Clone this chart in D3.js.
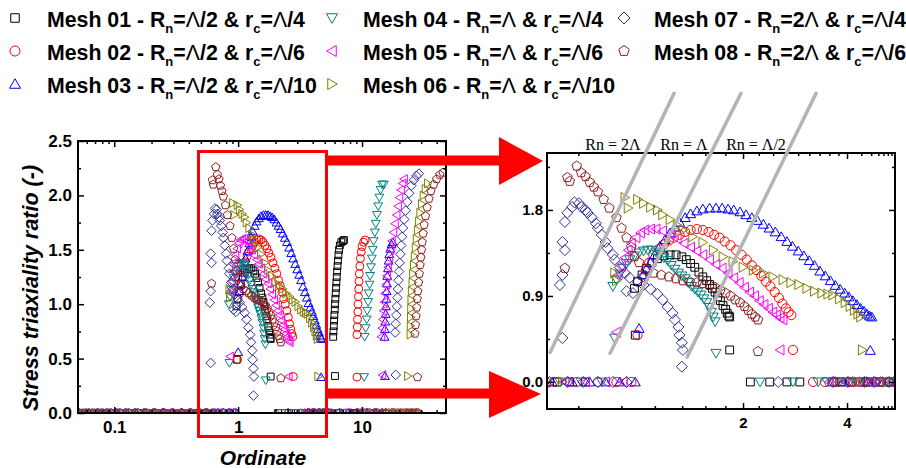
<!DOCTYPE html>
<html><head><meta charset="utf-8">
<script src="https://cdn.jsdelivr.net/npm/d3@7"></script>
<style>body{margin:0;background:#fff}svg{display:block}text{white-space:pre}</style>
</head><body><svg id="c" width="906" height="468"></svg>
<script>
// ---------------- DATA ----------------
const meshNames = ["Mesh 01","Mesh 02","Mesh 03","Mesh 04","Mesh 05","Mesh 06","Mesh 07","Mesh 08"];
const rnValues = ["Λ/2","Λ/2","Λ/2","Λ","Λ","Λ","2Λ","2Λ"];
const rcValues = ["Λ/4","Λ/6","Λ/10","Λ/4","Λ/6","Λ/10","Λ/4","Λ/6"];

// [x, y] points: main curve, isolated points, high-x column
const mesh01Points = [
 [0.97,0.98],[0.99,1.05],[1.02,1.12],[1.05,1.19],[1.09,1.25],[1.13,1.29],[1.18,1.32],[1.23,1.33],[1.28,1.33],[1.33,1.31],[1.37,1.28],[1.41,1.24],[1.45,1.20],[1.49,1.15],[1.53,1.10],[1.57,1.06],[1.60,1.02],[1.63,0.98],[1.66,0.94],[1.69,0.89],[1.72,0.85],[1.75,0.80],[1.78,0.76],[1.80,0.72],[1.82,0.69],[1.83,0.68],
 [0.975,0.49],[1.83,0.335],[6.05,0.34],
 [5.85,0.70],[5.88,0.75],[5.92,0.80],[5.95,0.85],[5.98,0.90],[6.02,0.95],[6.05,1.00],[6.09,1.05],[6.13,1.10],[6.17,1.15],[6.21,1.20],[6.25,1.25],[6.29,1.30],[6.34,1.35],[6.39,1.40],[6.45,1.45],[6.52,1.50],[6.62,1.54],[6.80,1.57],[7.00,1.58],[7.15,1.59]
];
const mesh02Points = [
 [1.03,1.10],[1.05,1.18],[1.07,1.25],[1.10,1.33],[1.14,1.39],[1.18,1.44],[1.22,1.48],[1.26,1.51],[1.31,1.54],[1.36,1.57],[1.41,1.59],[1.47,1.60],[1.53,1.59],[1.59,1.57],[1.65,1.54],[1.71,1.51],[1.77,1.47],[1.84,1.43],[1.91,1.38],[1.98,1.33],[2.05,1.28],[2.12,1.22],[2.19,1.17],[2.26,1.11],[2.33,1.05],[2.40,1.00],[2.47,0.94],[2.54,0.88],[2.60,0.82],[2.66,0.77],[2.71,0.73],[2.76,0.70],
 [0.99,0.49],[2.79,0.335],[9.1,0.33],
 [9.1,0.72],[9.15,0.79],[9.2,0.86],[9.25,0.93],[9.3,1.00],[9.35,1.07],[9.4,1.14],[9.45,1.21],[9.5,1.28],[9.6,1.35],[9.7,1.42],[9.85,1.48],[10.0,1.53],[10.3,1.57],[10.6,1.59]
];
const mesh03Points = [
 [1.03,1.12],[1.05,1.18],[1.08,1.25],[1.11,1.33],[1.15,1.42],[1.19,1.49],[1.23,1.56],[1.27,1.62],[1.31,1.67],[1.36,1.72],[1.41,1.76],[1.47,1.79],[1.53,1.81],[1.60,1.82],[1.67,1.82],[1.74,1.82],[1.81,1.81],[1.88,1.80],[1.96,1.78],[2.04,1.75],[2.12,1.72],[2.20,1.69],[2.29,1.65],[2.38,1.61],[2.48,1.57],[2.58,1.52],[2.68,1.47],[2.78,1.42],[2.89,1.37],[3.00,1.32],[3.11,1.27],[3.22,1.22],[3.34,1.16],[3.46,1.11],[3.58,1.06],[3.70,1.01],[3.82,0.97],[3.94,0.93],[4.05,0.89],[4.16,0.85],[4.27,0.81],[4.38,0.77],[4.48,0.74],[4.57,0.71],[4.65,0.69],[4.72,0.68],
 [1.0,0.56],[4.67,0.33],[15.3,0.34],
 [15.2,0.70],[15.3,0.77],[15.4,0.84],[15.5,0.91],[15.6,0.98],[15.7,1.05],[15.8,1.12],[15.9,1.19],[16.0,1.26],[16.2,1.33],[16.4,1.40],[16.6,1.46],[16.9,1.51],[17.3,1.55],[17.7,1.57]
];
const mesh04Points = [
 [0.84,1.00],[0.86,1.07],[0.88,1.13],[0.90,1.19],[0.92,1.24],[0.94,1.28],[0.97,1.32],[1.00,1.35],[1.03,1.37],[1.06,1.38],[1.09,1.38],[1.12,1.36],[1.15,1.33],[1.18,1.30],[1.21,1.27],[1.24,1.22],[1.27,1.18],[1.30,1.14],[1.33,1.11],[1.36,1.08],[1.39,1.04],[1.42,1.00],[1.45,0.97],[1.48,0.94],[1.51,0.91],[1.54,0.87],[1.57,0.83],[1.60,0.78],[1.62,0.73],[1.64,0.68],[1.66,0.63],
 [0.85,0.46],[1.67,0.30],[10.4,0.33],
 [10.5,0.70],[10.7,0.78],[10.9,0.86],[11.0,0.94],[11.2,1.02],[11.3,1.10],[11.5,1.18],[11.6,1.26],[11.8,1.34],[12.0,1.42],[12.2,1.50],[12.4,1.58],[12.7,1.66],[12.9,1.74],[13.2,1.82],[13.5,1.90],[13.8,1.98],[14.1,2.05],[14.5,2.10],[15.0,2.10]
];
const mesh05Points = [
 [0.87,1.12],[0.89,1.21],[0.91,1.30],[0.93,1.38],[0.95,1.45],[0.98,1.51],[1.01,1.56],[1.04,1.59],[1.08,1.60],[1.12,1.60],[1.17,1.58],[1.23,1.54],[1.29,1.50],[1.35,1.45],[1.41,1.41],[1.47,1.37],[1.53,1.33],[1.60,1.28],[1.67,1.23],[1.74,1.19],[1.81,1.14],[1.88,1.09],[1.95,1.04],[2.02,0.99],[2.09,0.94],[2.16,0.90],[2.23,0.85],[2.30,0.81],[2.37,0.77],[2.44,0.73],[2.50,0.70],[2.56,0.67],[2.61,0.65],
 [0.86,0.52],[2.56,0.335],[14.6,0.35],
 [14.3,0.70],[14.5,0.78],[14.7,0.86],[14.9,0.94],[15.1,1.02],[15.3,1.10],[15.6,1.18],[15.9,1.26],[16.2,1.34],[16.6,1.42],[17.0,1.50],[17.4,1.58],[17.9,1.66],[18.4,1.74],[19.0,1.82],[19.5,1.90],[20.0,1.98],[20.6,2.05],[21.2,2.11],[21.8,2.15]
];
const mesh06Points = [
 [0.85,1.14],[0.86,1.06],[0.91,1.93],[0.93,1.82],[0.99,1.91],[1.03,1.87],[1.08,1.83],[1.13,1.80],[1.17,1.75],[1.23,1.70],[1.29,1.64],[1.34,1.59],[1.43,1.52],[1.53,1.46],[1.64,1.38],[1.75,1.31],[1.87,1.26],[2.00,1.20],[2.14,1.17],[2.29,1.14],[2.44,1.10],[2.61,1.07],[2.75,1.04],[2.90,1.02],[3.06,0.98],[3.22,0.95],[3.38,0.93],[3.52,0.92],[3.64,0.91],[3.80,0.87],[3.95,0.83],[4.08,0.79],[4.20,0.75],[4.30,0.71],[4.38,0.68],
 [4.43,0.335],[23.5,0.34],
 [24.6,0.72],[24.7,0.80],[24.8,0.88],[24.9,0.96],[25.0,1.04],[25.2,1.12],[25.5,1.20],[25.8,1.28],[26.2,1.36],[26.6,1.44],[27.1,1.52],[27.6,1.60],[28.2,1.68],[28.8,1.76],[29.5,1.84],[30.4,1.92],[31.4,2.00],[32.6,2.06],[34.0,2.11]
];
const mesh07Points = [
 [0.59,1.015],[0.60,1.12],[0.61,1.38],[0.60,1.465],[0.61,1.675],[0.62,1.77],[0.64,1.83],[0.65,1.88],[0.67,1.87],[0.68,1.83],[0.70,1.80],[0.71,1.77],[0.73,1.72],[0.75,1.66],[0.76,1.61],[0.78,1.54],[0.80,1.465],[0.81,1.40],[0.84,1.33],[0.85,1.28],[0.88,1.20],[0.91,1.14],[0.94,1.09],[0.99,1.05],[1.03,1.015],[1.08,0.97],[1.13,0.92],[1.17,0.86],[1.21,0.785],[1.25,0.72],[1.27,0.65],[1.30,0.575],[1.31,0.49],[1.33,0.41],[1.34,0.335],[0.92,0.95],[0.96,0.93],
 [0.60,0.46],[1.33,0.16],[18.7,0.35],
 [18.5,0.74],[18.7,0.82],[18.9,0.90],[19.1,0.98],[19.3,1.06],[19.5,1.14],[19.7,1.22],[19.9,1.30],[20.1,1.38],[20.4,1.46],[20.7,1.54],[21.0,1.62],[21.4,1.70],[21.9,1.78],[22.5,1.86],[23.2,1.94],[24.0,2.02],[25.0,2.09],[26.2,2.14],[27.5,2.18],[28.8,2.20]
];
const mesh08Points = [
 [0.62,2.14],[0.63,2.10],[0.66,2.26],[0.68,2.19],[0.70,2.15],[0.72,2.09],[0.74,2.04],[0.76,1.99],[0.79,1.91],[0.82,1.82],[0.86,1.72],[0.89,1.61],[0.92,1.51],[0.95,1.41],[0.97,1.31],[1.00,1.25],[1.05,1.17],[1.10,1.14],[1.16,1.12],[1.22,1.10],[1.28,1.08],[1.34,1.06],[1.40,1.05],[1.47,1.04],[1.53,1.03],[1.60,1.01],[1.66,0.99],[1.72,0.96],[1.78,0.93],[1.84,0.90],[1.90,0.86],[1.96,0.83],[2.02,0.79],[2.07,0.75],[2.12,0.71],[2.17,0.68],[2.21,0.65],
 [0.61,1.19],[2.21,0.32],[28.0,0.33],
 [26.7,0.73],[27.0,0.81],[27.3,0.89],[27.6,0.97],[27.9,1.05],[28.2,1.12],[28.6,1.20],[29.0,1.28],[29.4,1.36],[29.8,1.43],[30.2,1.50],[30.6,1.57],[31.1,1.65],[31.7,1.73],[32.5,1.81],[33.5,1.89],[34.7,1.97],[36.0,2.04],[37.8,2.10],[40.0,2.15],[42.5,2.19],[45.0,2.21]
];

// x positions of points lying on y = 0
const mesh01Zeros = [0.052,0.061,0.072,0.085,0.10,0.118,0.139,0.164,0.193,0.228,0.269,0.317,0.374,0.441,0.52,0.58,0.63,0.70, 2.10,2.39,2.68,2.92,3.62,3.86,4.10,4.36,4.62,4.95,5.30,6.2,7.4,8.8];
const mesh02Zeros = [0.055,0.066,0.078,0.092,0.11,0.13,0.155,0.18,0.215,0.255,0.30,0.355,0.42,0.50,0.57,0.66,0.76,0.86,0.95, 3.19,3.45,3.75,4.05,4.45,4.85,5.25,6.5,8.0,9.5,11.5];
const mesh03Zeros = [0.053,0.063,0.075,0.089,0.106,0.126,0.15,0.178,0.21,0.25,0.295,0.35,0.415,0.49,0.56,0.64,0.72,0.80,0.88,0.975, 3.9,4.6,5.1,6.8,8.2,9.8,11.2,12.8,14.5];
const mesh04Zeros = [0.054,0.067,0.08,0.095,0.112,0.133,0.158,0.187,0.222,0.263,0.31,0.365,0.43,0.51,0.59,0.68,0.78, 2.24,2.79,3.30,3.50,3.75,4.00,4.30,4.55,4.85,5.20,5.45,5.7,6.5,7.3];
const mesh05Zeros = [0.056,0.068,0.081,0.097,0.115,0.137,0.163,0.194,0.23,0.272,0.322,0.38,0.45,0.53,0.61,0.70,0.80,0.90, 3.55,3.95,4.25,4.65,4.95,5.35,7.0,8.6,10.3,12.0,13.8];
const mesh06Zeros = [0.051,0.06,0.07,0.083,0.098,0.116,0.137,0.162,0.192,0.227,0.268,0.317,0.375,0.443,0.52,0.60, 4.30,5.20,10.5,13.5,16.5,19.0,21.5,24.0,26.5,29.0];
const mesh07Zeros = [0.052,0.062,0.074,0.088,0.104,0.124,0.147,0.175,0.208,0.247,0.294,0.35,0.41,0.48,0.55,0.62,0.69,0.76,0.84,0.92, 2.53,3.65,4.02,4.50,4.80,5.30,6.6,7.8,9.2,11.0,13.0,15.5,17.5];
const mesh08Zeros = [0.05,0.059,0.069,0.081,0.095,0.112,0.132,0.156,0.183,0.215,0.253,0.298,0.35,0.41,0.47,0.54, 3.70,4.15,4.55,5.00,5.45,9.0,10.5,11.5,12.5,13.5,14.5,15.5,16.5,17.5,18.5,19.5,20.5,21.5,22.5,23.5,24.5,25.5,26.5,27.5,28.5];

// axes ticks
const leftXMajor = [0.1, 1, 10];
const leftXMinor = [0.06,0.07,0.08,0.09,0.2,0.3,0.4,0.5,0.6,0.7,0.8,0.9,2,3,4,5,6,7,8,9,20,30,40];
const leftYMajor = [0, 0.5, 1.0, 1.5, 2.0, 2.5];
const leftYMinor = [0.25, 0.75, 1.25, 1.75, 2.25];
const rightXMajor = [2, 4];
const rightXMinor = [0.667,0.889,1.111,1.333,1.556,1.778,2.222,2.444,2.667,2.889,3.111,3.333,3.556,3.778,4.4,4.7,4.93,5.1,5.25,5.38];
const rightYMajor = [0, 0.9, 1.8];
const rightYMinor = [0.45, 1.35, 2.25];

// guide lines in the zoomed panel (data coords) and their labels
const guideLines = [[[0.553,0.31],[1.263,3.02]], [[0.824,0.30],[1.973,3.02]], [[1.377,0.26],[3.254,3.02]]];
const guideLabels = ["Rn = 2Λ", "Rn = Λ", "Rn = Λ/2"];

// ---------------- STYLE ----------------
const meshColors = ["#000000","#ff0000","#0000ff","#008080","#ff00ff","#808000","#30309a","#8e2020"];
const meshShapes = ["square","circle","up","down","left","right","diamond","pentagon"];
const FONT = "'Liberation Sans', Arial, sans-serif";

const meshPoints = [mesh01Points,mesh02Points,mesh03Points,mesh04Points,mesh05Points,mesh06Points,mesh07Points,mesh08Points];
const meshZeros = [mesh01Zeros,mesh02Zeros,mesh03Zeros,mesh04Zeros,mesh05Zeros,mesh06Zeros,mesh07Zeros,mesh08Zeros];
const meshData = meshPoints.map((p,i) => meshZeros[i].map(x => [x,0]).concat(p));

function shapePath(shape, s) {
  const P = pts => "M" + pts.map(q => q[0].toFixed(2) + "," + q[1].toFixed(2)).join("L") + "Z";
  switch (shape) {
    case "square": { const a = s*0.85; return P([[-a,-a],[a,-a],[a,a],[-a,a]]); }
    case "circle": return `M${s},0A${s},${s},0,1,1,${-s},0A${s},${s},0,1,1,${s},0Z`;
    case "up": return P([[0,-1.05*s],[1.1*s,0.85*s],[-1.1*s,0.85*s]]);
    case "down": return P([[0,1.05*s],[1.1*s,-0.85*s],[-1.1*s,-0.85*s]]);
    case "left": return P([[-1.05*s,0],[0.85*s,-1.1*s],[0.85*s,1.1*s]]);
    case "right": return P([[1.05*s,0],[-0.85*s,-1.1*s],[-0.85*s,1.1*s]]);
    case "diamond": { const a = 1.2*s; return P([[0,-a],[a,0],[0,a],[-a,0]]); }
    case "pentagon": { const r = 1.1*s; const pts = []; for (let k=0;k<5;k++){ const ang = -Math.PI/2 + k*2*Math.PI/5; pts.push([r*Math.cos(ang), r*Math.sin(ang)]); } return P(pts); }
  }
}

const svg = d3.select("#c");
svg.append("rect").attr("width",906).attr("height",468).attr("fill","#fff");

function drawAxes(g, x, y, o) {
  const [x0,x1] = x.range(), [y0,y1] = y.range();
  const style = sel => { sel.selectAll(".domain").remove(); sel.selectAll("line").attr("stroke","#000").attr("stroke-width",1.5);
    sel.selectAll("text").attr("font-family",FONT).attr("font-weight","bold").attr("font-size",o.fs).attr("fill","#000"); sel.attr("font-size",o.fs); };
  g.append("g").attr("transform",`translate(0,${y0})`).call(d3.axisBottom(x).tickValues(o.xMajor).tickFormat(o.xFmt).tickSizeInner(-6).tickSizeOuter(0).tickPadding(o.xPad)).call(style);
  g.append("g").attr("transform",`translate(0,${y0})`).call(d3.axisBottom(x).tickValues(o.xMinor).tickFormat("").tickSizeInner(-3).tickSizeOuter(0)).call(style);
  g.append("g").attr("transform",`translate(0,${y1})`).call(d3.axisTop(x).tickValues(o.xMajor).tickFormat("").tickSizeInner(-6).tickSizeOuter(0)).call(style);
  g.append("g").attr("transform",`translate(0,${y1})`).call(d3.axisTop(x).tickValues(o.xMinor).tickFormat("").tickSizeInner(-3).tickSizeOuter(0)).call(style);
  g.append("g").attr("transform",`translate(${x0},0)`).call(d3.axisLeft(y).tickValues(o.yMajor).tickFormat(d3.format(".1f")).tickSizeInner(-6).tickSizeOuter(0).tickPadding(o.yPad)).call(style);
  g.append("g").attr("transform",`translate(${x0},0)`).call(d3.axisLeft(y).tickValues(o.yMinor).tickFormat("").tickSizeInner(-3).tickSizeOuter(0)).call(style);
  g.append("g").attr("transform",`translate(${x1},0)`).call(d3.axisRight(y).tickValues(o.yMajor).tickFormat("").tickSizeInner(-6).tickSizeOuter(0)).call(style);
  g.append("g").attr("transform",`translate(${x1},0)`).call(d3.axisRight(y).tickValues(o.yMinor).tickFormat("").tickSizeInner(-3).tickSizeOuter(0)).call(style);
  g.append("rect").attr("x",x0).attr("y",y1).attr("width",x1-x0).attr("height",y0-y1).attr("fill","none").attr("stroke","#000").attr("stroke-width",2);
}

function drawPoints(g, x, y, s, clipId) {
  const [x0,x1] = x.range(), [y0,y1] = y.range();
  svg.append("clipPath").attr("id",clipId).append("rect").attr("x",x0).attr("y",y1).attr("width",x1-x0).attr("height",y0-y1);
  const pg = g.append("g").attr("clip-path",`url(#${clipId})`);
  meshData.forEach((data,i) => {
    const d = shapePath(meshShapes[i], s);
    pg.append("g").selectAll("path").data(data.filter(p => p[0] >= x.domain()[0]*0.9 && p[0] <= x.domain()[1]*1.1)).join("path")
      .attr("d", d).attr("transform", p => `translate(${x(p[0]).toFixed(2)},${y(p[1]).toFixed(2)})`)
      .attr("fill","none").attr("stroke",meshColors[i]).attr("stroke-width",1);
  });
}

// ---------------- LEFT CHART ----------------
const xL = d3.scaleLog().domain([0.051, 47.6]).range([78, 446]);
const yL = d3.scaleLinear().domain([0, 2.5]).range([413, 141]);
const gL = svg.append("g");
drawPoints(gL, xL, yL, 4, "clipL");
drawAxes(gL, xL, yL, {xMajor:leftXMajor, xMinor:leftXMinor, yMajor:leftYMajor, yMinor:leftYMinor, xFmt:d => String(d), fs:17, xPad:8, yPad:6});
gL.append("text").attr("x",263).attr("y",465).attr("text-anchor","middle").attr("font-family",FONT).attr("font-weight","bold").attr("font-style","italic").attr("font-size",21).text("Ordinate");
gL.append("text").attr("transform","translate(38,288) rotate(-90)").attr("text-anchor","middle").attr("font-family",FONT).attr("font-weight","bold").attr("font-style","italic").attr("font-size",21.5).text("Stress triaxiality ratio (-)");

// ---------------- RIGHT CHART ----------------
const xR = d3.scaleLog().base(2).domain([0.5414, 5.508]).range([547, 895]);
const yR = d3.scaleLinear().domain([-0.283, 2.396]).range([409, 153]);
const gR = svg.append("g");
drawPoints(gR, xR, yR, 4.6, "clipR");
drawAxes(gR, xR, yR, {xMajor:rightXMajor, xMinor:rightXMinor, yMajor:rightYMajor, yMinor:rightYMinor, xFmt:d => String(d), fs:15, xPad:8, yPad:4});
const line = d3.line().x(p => xR(p[0])).y(p => yR(p[1]));
gR.append("g").selectAll("path").data(guideLines).join("path").attr("d", line)
  .attr("stroke","#b4b4b4").attr("stroke-width",3.5).attr("fill","none").attr("stroke-linecap","round");
const labelX = [613, 684, 756];
gR.append("g").selectAll("text").data(guideLabels).join("text")
  .attr("x",(d,i)=>labelX[i]).attr("y",150).attr("text-anchor","middle")
  .attr("font-family","'Liberation Serif', 'Times New Roman', serif").attr("font-size",16).text(d=>d);

// ---------------- ZOOM ANNOTATION ----------------
const ann = svg.append("g").attr("fill","#ff0000");
svg.append("rect").attr("x",198.5).attr("y",151.5).attr("width",128).attr("height",285).attr("fill","none").attr("stroke","#ff0000").attr("stroke-width",3);
ann.append("rect").attr("x",327).attr("y",155.5).attr("width",175).attr("height",10);
ann.append("path").attr("d","M499,137L543,161L499,185Z");
ann.append("rect").attr("x",327).attr("y",388.5).attr("width",165).attr("height",10);
ann.append("path").attr("d","M489,371L541,394L489,418Z");

// ---------------- LEGEND ----------------
const legCol = [[15,47],[332,363],[624,654]];
const legRow = [27, 60, 93];
const leg = svg.append("g").attr("font-family",FONT).attr("font-weight","bold").attr("font-size",21.3);
function addLambdaText(t, s) {
  s.split(/(Λ)/).filter(d => d).forEach(part => {
    const ts = t.append("tspan").text(part);
    if (part === "Λ") ts.attr("font-weight","normal");
  });
}
meshNames.forEach((name,i) => {
  const col = Math.floor(i/3), row = i % 3;
  const [mx, tx] = legCol[col], by = legRow[row];
  leg.append("path").attr("d", shapePath(meshShapes[i], 5)).attr("transform",`translate(${mx},${by-9})`)
    .attr("fill","none").attr("stroke",meshColors[i]).attr("stroke-width",1);
  const t = leg.append("text").attr("x",tx).attr("y",by);
  t.append("tspan").text(name + " - R");
  t.append("tspan").attr("font-size",13).attr("dy",6).text("n");
  t.append("tspan").attr("dy",-6).text("=");
  addLambdaText(t, rnValues[i]);
  t.append("tspan").text(" & r");
  t.append("tspan").attr("font-size",13).attr("dy",6).text("c");
  t.append("tspan").attr("dy",-6).text("=");
  addLambdaText(t, rcValues[i]);
});
</script></body></html>
